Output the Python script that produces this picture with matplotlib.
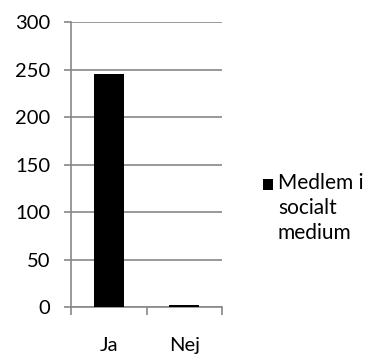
import matplotlib.pyplot as plt
from matplotlib.patches import Rectangle

categories = ["Ja", "Nej"]
values = [245, 3]
series_name = "Medlem i\nsocialt\nmedium"
yticks = [0, 50, 100, 150, 200, 250, 300]

plt.rcParams["font.family"] = ["Lato", "DejaVu Sans"]
FS = 14.5
GRAY = "#888888"

fig = plt.figure(figsize=(3.72, 3.6), dpi=100)
ax = fig.add_axes([0.191, 0.146, 0.406, 0.793])

xpos = range(len(categories))
ax.bar(xpos, values, width=0.4, color="black", zorder=3)

ax.set_xlim(-0.5, len(categories) - 0.5)
ax.set_ylim(0, 300)
ax.set_yticks(yticks)
ax.set_yticklabels([str(v) for v in yticks], fontsize=FS)

# kategori-etiketter sidder mellem tick-markeringerne
ax.set_xticks([-0.5, 0.5, 1.5])
ax.set_xticklabels([])
ax.set_xticks(list(xpos), minor=True)
ax.set_xticklabels(categories, minor=True, fontsize=FS)
ax.tick_params(axis="x", which="minor", length=0, pad=21)
ax.tick_params(axis="x", which="major", length=6, color=GRAY, width=1.2)
ax.tick_params(axis="y", length=5, color=GRAY, width=1.2, pad=10)

ax.grid(axis="y", color=GRAY, linewidth=1.2, zorder=0)
for s in ["top", "right"]:
    ax.spines[s].set_visible(False)
for s in ["left", "bottom"]:
    ax.spines[s].set_color(GRAY)
    ax.spines[s].set_linewidth(1.2)

# forklaring: sort firkant ud for første linje
fig.add_artist(Rectangle((0.707, 0.473), 0.027, 0.03, transform=fig.transFigure,
                         facecolor="black", edgecolor="none"))
fig.text(0.747, 0.519, series_name, fontsize=15, va="top", ha="left",
         linespacing=1.3)

fig.savefig("out.png", dpi=100)
